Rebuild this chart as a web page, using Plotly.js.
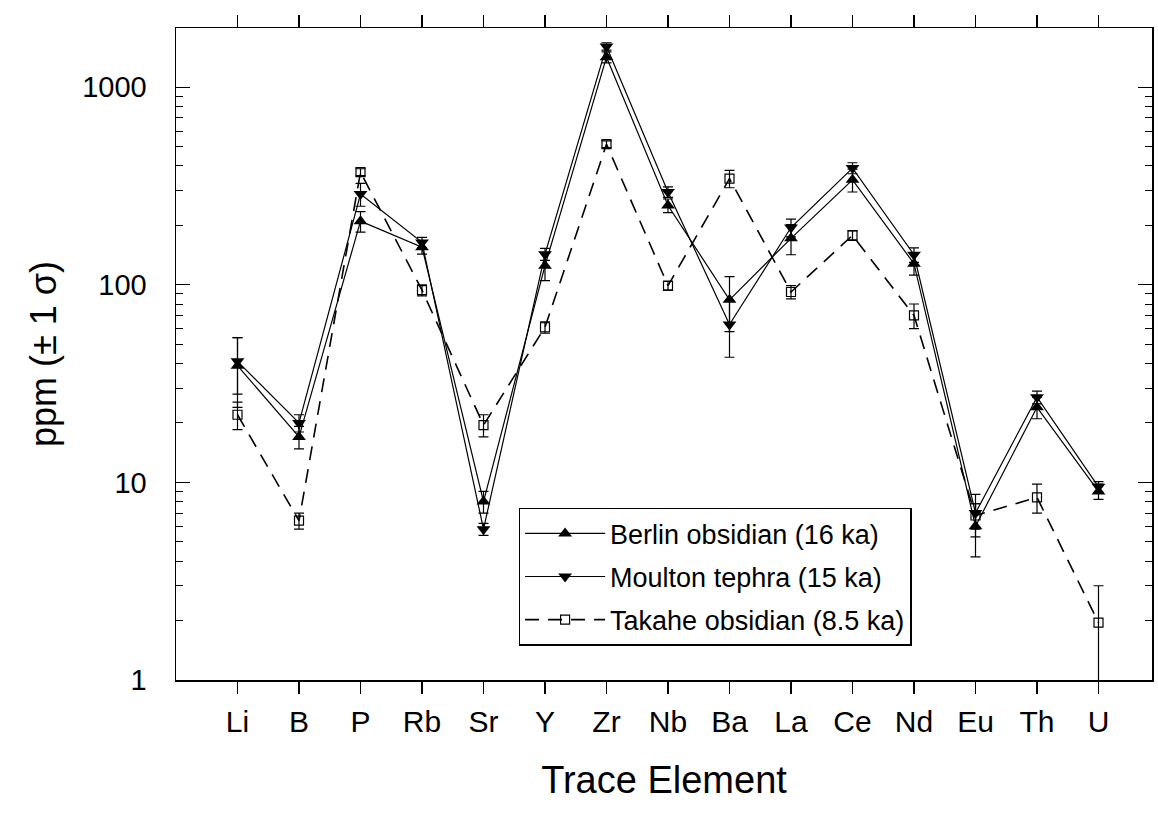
<!DOCTYPE html>
<html>
<head>
<meta charset="utf-8">
<script src="https://cdn.plot.ly/plotly-3.0.1.min.js"></script>
<style>html,body{margin:0;padding:0;background:#fff;}#chart{width:1158px;height:814px;}</style>
</head>
<body>
<div id="chart"></div>
<script>
const elements = ["Li","B","P","Rb","Sr","Y","Zr","Nb","Ba","La","Ce","Nd","Eu","Th","U"];

const berlinName = "Berlin obsidian (16 ka)";
const berlinPpm = [39, 17, 210, 155, 8.0, 125, 1420, 252, 84, 172, 340, 128, 6.0, 24, 9.0];
const berlinSigma = [15, 2.2, 25, 12, 1.0, 20, 90, 20, 26, 30, 45, 16, 1.8, 3, 0.8];

const moultonName = "Moulton tephra (15 ka)";
const moultonPpm = [41, 20, 288, 164, 5.8, 143, 1610, 295, 63, 195, 390, 142, 7.0, 27, 9.5];
const moultonSigma = [13, 2, 38, 10, 0.4, 10, 70, 18, 20, 20, 25, 12, 1.7, 2, 0.6];

const takaheName = "Takahe obsidian (8.5 ka)";
const takahePpm = [22, 6.4, 372, 94, 19.5, 61, 515, 99, 345, 92, 178, 70, 6.8, 8.4, 1.95];
const takaheSigma = [3.5, 0.6, 15, 6, 2.5, 4, 20, 5, 35, 7, 10, 10, 1.0, 1.4, 1.05];

const yTickVals = [1, 10, 100, 1000];
const yTickText = ["1", "10", "100", "1000"];

const FONT = "Liberation Sans, Arial, Helvetica, sans-serif";

function errBar(arr) {
  return {type: "data", array: arr, visible: true, color: "#000", thickness: 1.2, width: 5};
}

const traces = [
  {
    x: elements, y: berlinPpm, name: berlinName, type: "scatter", mode: "lines+markers",
    line: {color: "#000", width: 1.2},
    marker: {symbol: "triangle-up", size: 12, color: "#000"},
    error_y: errBar(berlinSigma), legendgroup: "a"
  },
  {
    x: elements, y: moultonPpm, name: moultonName, type: "scatter", mode: "lines+markers",
    line: {color: "#000", width: 1.2},
    marker: {symbol: "triangle-down", size: 12, color: "#000"},
    error_y: errBar(moultonSigma), legendgroup: "b"
  },
  {
    x: elements, y: takahePpm, name: takaheName, type: "scatter", mode: "lines+markers",
    line: {color: "#000", width: 1.6, dash: "14px,9px"},
    marker: {symbol: "square-open", size: 9, color: "#000", line: {width: 1.2}},
    error_y: errBar(takaheSigma), legendgroup: "c"
  }
];

const layout = {
  width: 1158, height: 814,
  margin: {l: 176, r: 6, t: 28, b: 134},
  paper_bgcolor: "#fff", plot_bgcolor: "#fff",
  font: {family: FONT, color: "#000", size: 22},
  showlegend: true,
  legend: {
    x: 0.351, y: 0.264, xanchor: "left", yanchor: "top",
    bgcolor: "#fff", bordercolor: "#000", borderwidth: 1.5,
    font: {family: FONT, size: 27, color: "#000"},
    traceorder: "grouped", tracegroupgap: 5, itemwidth: 80
  },
  xaxis: {
    type: "category", range: [-1, 14.87],
    showgrid: false, zeroline: false,
    showline: true, linecolor: "#000", linewidth: 1.5, mirror: "ticks",
    ticks: "outside", ticklen: 12, tickwidth: 1.2, tickcolor: "#000",
    tickfont: {family: FONT, size: 30},
    ticklabelstandoff: 2,
    title: {text: "Trace Element", font: {family: FONT, size: 38}, standoff: 30}
  },
  yaxis: {
    type: "log", range: [0, 3.30],
    showgrid: false, zeroline: false,
    showline: true, linecolor: "#000", linewidth: 1.5, mirror: "ticks",
    ticks: "inside", ticklen: 14, tickwidth: 1.2, tickcolor: "#000",
    tickvals: yTickVals, ticktext: yTickText,
    tickfont: {family: FONT, size: 29},
    ticklabelstandoff: 22,
    minor: {ticks: "inside", ticklen: 7, tickwidth: 1, tickcolor: "#000", dtick: "D1", showgrid: false},
    title: {text: "ppm (± 1 σ)", font: {family: FONT, size: 36}, standoff: 14}
  }
};

Plotly.newPlot("chart", traces, layout, {displayModeBar: false, staticPlot: true});
</script>
</body>
</html>
